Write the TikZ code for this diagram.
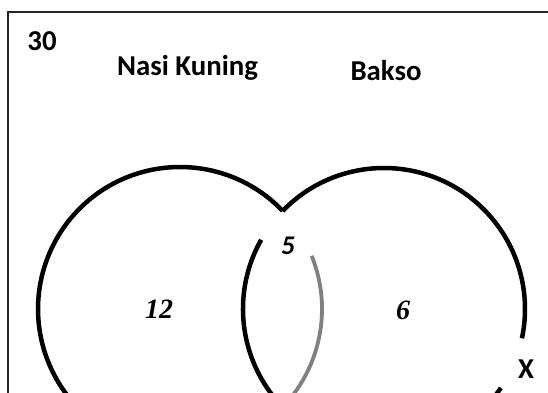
\documentclass[tikz,border=0pt]{standalone}
\usepackage{fontspec}
\setmainfont{Carlito}
\newfontfamily\numfont{Liberation Serif}
\begin{document}
\begin{tikzpicture}[x=1pt,y=1pt,
  ring/.style={line width=4.5pt, black},
  ringgray/.style={line width=3.8pt, black!50},
  frameline/.style={line width=1.6pt, black!85},
  title/.style={font=\fontsize{28.8}{34}\selectfont\bfseries, anchor=base, inner sep=0pt},
  count/.style={font=\numfont\fontsize{28}{34}\selectfont\bfseries\itshape, anchor=base, inner sep=0pt},
  countsans/.style={font=\fontsize{27}{32}\selectfont\bfseries\itshape, anchor=base, inner sep=0pt}]
\useasboundingbox (0,0) rectangle (548,392);
\clip (0,0) rectangle (548,392);
% universal set frame
\draw[frameline] (8,-5) -- (8,380) -- (555,380);
% circle centres
\coordinate (L) at (180,83);
\coordinate (R) at (384,83);
% Nasi Kuning circle
\draw[ring] ([shift={(43.7:142)}]L) arc[start angle=43.7, end angle=240, radius=142];
\draw[ringgray] ([shift={(22:142)}]L) arc[start angle=22, end angle=-50, radius=142];
% Bakso circle
\draw[ring] ([shift={(136:141)}]R) arc[start angle=136, end angle=-12, radius=141];
\draw[ring] ([shift={(-34:141)}]R) arc[start angle=-34, end angle=-60, radius=141];
\draw[ring] ([shift={(150.6:141)}]R) arc[start angle=150.6, end angle=240, radius=141];
% labels
\node[title] (total) at (42,342) {30};
\node[title] (setA) at (187.5,316.5) {Nasi Kuning};
\node[title] (setB) at (386,311.5) {Bakso};
\node[count] (onlyA) at (159,74) {12};
\node[count] (onlyB) at (403,73) {6};
\node[countsans] (both) at (288,138) {5};
\node[title] (outside) at (526,14) {X};
\end{tikzpicture}
\end{document}
